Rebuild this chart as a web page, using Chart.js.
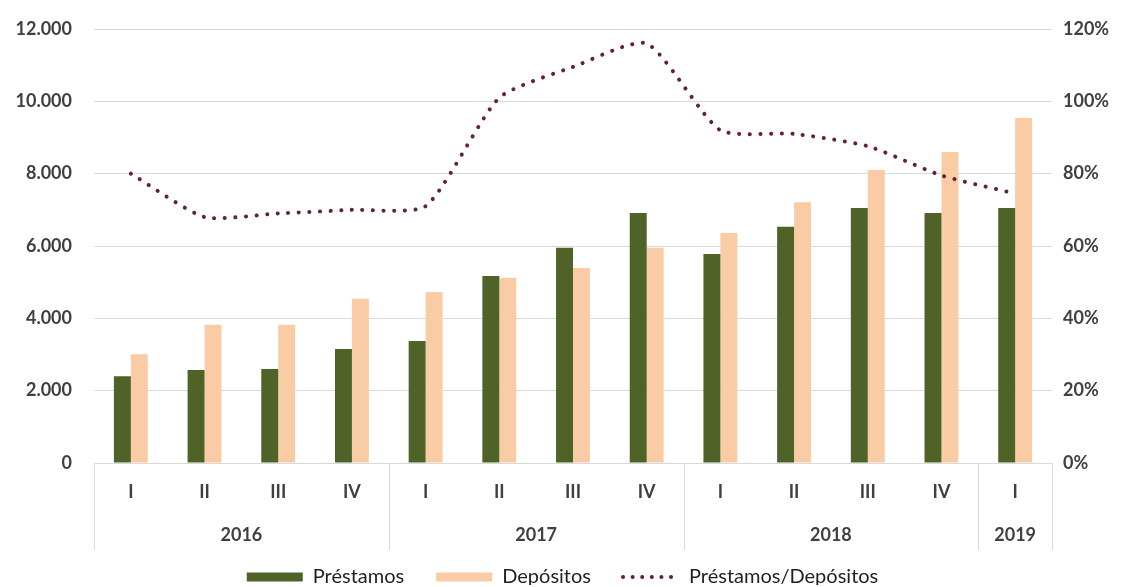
<!DOCTYPE html>
<html><head><meta charset="utf-8">
<script src="https://cdn.jsdelivr.net/npm/chart.js@4/dist/chart.umd.min.js"></script>
<style>html,body{margin:0;padding:0;background:#fff}#wrap{width:1125px;height:587px;position:relative}</style>
</head><body><div id="wrap"><canvas id="c" width="1125" height="587"></canvas></div>
<script>
const quarters = ['I','II','III','IV','I','II','III','IV','I','II','III','IV','I'];
const years = ['2016','2017','2018','2019'];
const yearSpans = [4,4,4,1];
const prestamos = [2400,2570,2600,3150,3370,5170,5950,6910,5780,6530,7050,6910,7050];
const depositos = [3010,3820,3820,4540,4730,5120,5390,5950,6360,7210,8100,8600,9540];
const ratio = [80,68,69,70,71,101,109.5,116,92,91,87.6,79.5,74.5];
const leftTicks = [0,2000,4000,6000,8000,10000,12000];
const rightTicks = [0,20,40,60,80,100,120];

const FONT = 'Lato, "Open Sans", sans-serif';
const GRID = '#d9d9d9';
const TXT = '#404040';
const LEGEND_HEIGHT = 50;

const groupPlugin = {
  id: 'groups',
  beforeLayout(chart) {
    const lg = chart.legend;
    if (lg && !lg._fixedH) {
      const f = lg.fit;
      lg.fit = function () { f.call(this); this.height = LEGEND_HEIGHT; };
      lg._fixedH = true;
    }
  },
  afterDraw(chart) {
    const x = chart.scales.x, ctx = chart.ctx, area = chart.chartArea;
    const half = (x.getPixelForValue(1) - x.getPixelForValue(0)) / 2;
    ctx.save();
    ctx.strokeStyle = GRID; ctx.lineWidth = 1;
    ctx.font = 'bold 18px ' + FONT; ctx.fillStyle = TXT;
    ctx.textAlign = 'center'; ctx.textBaseline = 'middle';
    let idx = 0;
    const bounds = [x.getPixelForValue(0) - half];
    years.forEach((y, i) => {
      const start = idx, end = idx + yearSpans[i] - 1;
      const l = x.getPixelForValue(start) - half, r = x.getPixelForValue(end) + half;
      bounds.push(r);
      ctx.fillText(y, (l + r) / 2, area.bottom + 72);
      idx += yearSpans[i];
    });
    bounds.forEach(b => {
      const px = Math.round(b) + 0.5;
      ctx.beginPath(); ctx.moveTo(px, area.bottom); ctx.lineTo(px, area.bottom + 87); ctx.stroke();
    });
    ctx.restore();
  }
};

new Chart(document.getElementById('c'), {
  data: {
    labels: quarters,
    datasets: [
      { type: 'bar', label: 'Préstamos', data: prestamos, backgroundColor: '#4f6228', yAxisID: 'y', order: 2,
        barPercentage: 1, categoryPercentage: 0.46 },
      { type: 'bar', label: 'Depósitos', data: depositos, backgroundColor: '#f9cca6', yAxisID: 'y', order: 2,
        barPercentage: 1, categoryPercentage: 0.46 },
      { type: 'line', label: 'Préstamos/Depósitos', data: ratio, yAxisID: 'y2', order: 1,
        borderColor: '#66222e', backgroundColor: '#66222e', borderWidth: 4, borderDash: [0.1, 10.5],
        borderCapStyle: 'round', pointRadius: 0, tension: 0.2, fill: false }
    ]
  },
  options: {
    responsive: false, animation: false, devicePixelRatio: 1,
    layout: { padding: { top: 29, left: 0, right: 0, bottom: 2 } },
    plugins: {
      tooltip: { enabled: false },
      legend: {
        position: 'bottom',
        labels: {
          font: { family: FONT, size: 20 }, color: '#1f1f1f',
          usePointStyle: true, pointStyleWidth: 56, boxWidth: 56, boxHeight: 9, padding: 32,
          generateLabels(chart) {
            return chart.data.datasets.map((d, i) => d.type === 'line' ? {
              text: d.label, datasetIndex: i, pointStyle: 'line', strokeStyle: d.borderColor,
              fillStyle: 'transparent', lineWidth: 4, lineDash: [0.1, 9.5], lineCap: 'round', fontColor: '#1f1f1f'
            } : {
              text: d.label, datasetIndex: i, pointStyle: 'rect', fillStyle: d.backgroundColor,
              strokeStyle: d.backgroundColor, lineWidth: 0, fontColor: '#1f1f1f'
            });
          }
        }
      }
    },
    scales: {
      x: {
        grid: { display: false, drawTicks: false },
        border: { display: true, color: GRID },
        ticks: { font: { family: FONT, size: 18, weight: 'bold' }, color: TXT, padding: 18, maxRotation: 0 },
        afterFit(s) { s.height = 72; s.paddingLeft = 0; s.paddingRight = 0; }
      },
      y: {
        position: 'left', min: 0, max: 12000,
        afterBuildTicks(s) { s.ticks = leftTicks.map(v => ({ value: v })); },
        grid: { color: GRID, drawTicks: false },
        border: { display: false },
        ticks: { font: { family: FONT, size: 18, weight: 'bold' }, color: TXT, padding: 22,
          callback: v => v.toLocaleString('de-DE') },
        afterFit(s) { s.width = 94; s.paddingTop = 0; s.paddingBottom = 0; }
      },
      y2: {
        position: 'right', min: 0, max: 120,
        afterBuildTicks(s) { s.ticks = rightTicks.map(v => ({ value: v })); },
        grid: { display: false, drawTicks: false },
        border: { display: false },
        ticks: { font: { family: FONT, size: 18, weight: 'bold' }, color: TXT, padding: 11,
          callback: v => v + '%' },
        afterFit(s) { s.width = 73; s.paddingTop = 0; s.paddingBottom = 0; }
      }
    }
  },
  plugins: [groupPlugin]
});
</script></body></html>
